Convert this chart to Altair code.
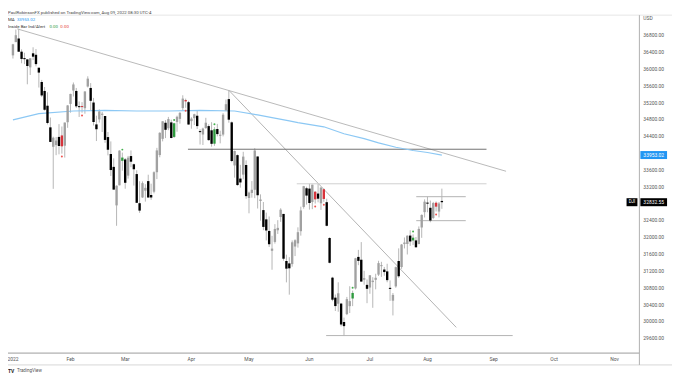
import altair as alt
import pandas as pd

# ---------------- data (Dow Jones daily candles, Jan 3 - Aug 8 2022) ----------------
dates = [
    "01-03", "01-04", "01-05", "01-06", "01-07", "01-10", "01-11", "01-12", "01-13", "01-14",
    "01-18", "01-19", "01-20", "01-21", "01-24", "01-25", "01-26", "01-27", "01-28", "01-31",
    "02-01", "02-02", "02-03", "02-04", "02-07", "02-08", "02-09", "02-10", "02-11", "02-14",
    "02-15", "02-16", "02-17", "02-18", "02-22", "02-23", "02-24", "02-25", "02-28",
    "03-01", "03-02", "03-03", "03-04", "03-07", "03-08", "03-09", "03-10", "03-11", "03-14",
    "03-15", "03-16", "03-17", "03-18", "03-21", "03-22", "03-23", "03-24", "03-25", "03-28",
    "03-29", "03-30", "03-31",
    "04-01", "04-04", "04-05", "04-06", "04-07", "04-08", "04-11", "04-12", "04-13", "04-14",
    "04-18", "04-19", "04-20", "04-21", "04-22", "04-25", "04-26", "04-27", "04-28", "04-29",
    "05-02", "05-03", "05-04", "05-05", "05-06", "05-09", "05-10", "05-11", "05-12", "05-13",
    "05-16", "05-17", "05-18", "05-19", "05-20", "05-23", "05-24", "05-25", "05-26", "05-27",
    "05-31",
    "06-01", "06-02", "06-03", "06-06", "06-07", "06-08", "06-09", "06-10", "06-13", "06-14",
    "06-15", "06-16", "06-17", "06-21", "06-22", "06-23", "06-24", "06-27", "06-28", "06-29",
    "06-30",
    "07-01", "07-05", "07-06", "07-07", "07-08", "07-11", "07-12", "07-13", "07-14", "07-15",
    "07-18", "07-19", "07-20", "07-21", "07-22", "07-25", "07-26", "07-27", "07-28", "07-29",
    "08-01", "08-02", "08-03", "08-04", "08-05", "08-08",
]
opens = [
    36321, 36636, 36722, 36409, 36250, 36226, 36036, 36370, 36335, 36028,
    35689, 35476, 35125, 34611, 34149, 34189, 34384, 34419, 34175, 34733,
    35168, 35486, 35476, 35093, 35111, 35066, 35581, 35547, 35201, 34681,
    34800, 34908, 34881, 34380, 33978, 33672, 32757, 33234, 33816,
    33849, 33464, 33929, 33733, 33501, 32809, 32945, 33106, 33334, 33004,
    33082, 33545, 33953, 34338, 34720, 34589, 34729, 34384, 34740, 34812,
    35069, 35260, 35209,
    34759, 34829, 34887, 34515, 34441, 34594, 34641, 34541, 34223, 34571,
    34410, 34440, 35012, 35282, 34730, 33706, 33951, 33394, 33488, 33716,
    32932, 33052, 33127, 33919, 32862, 32645, 32425, 32150, 31678, 31889,
    32166, 32480, 32554, 31436, 31379, 31362, 31780, 31854, 32144, 32720,
    33164,
    33156, 32837, 33082, 33038, 32807, 33141, 32833, 31983, 31040, 30565,
    30420, 30424, 29987, 30174, 30363, 30545, 30784, 31533, 31466, 30991,
    30869,
    30805, 30935, 30988, 31112, 31313, 31233, 31189, 30794, 30493, 30832,
    31436, 31292, 31838, 31839, 32040, 31924, 31925, 31840, 32232, 32597,
    32799, 32700, 32458, 32820, 32610, 32863,
]
highs = [
    36595, 36934, 36952, 36464, 36384, 36226, 36252, 36513, 36472, 36028,
    35738, 35569, 35444, 34844, 34389, 34381, 34688, 34631, 34725, 35140,
    35409, 35677, 35547, 35226, 35210, 35471, 35824, 35662, 35310, 34888,
    35038, 34977, 34881, 34500, 34277, 33875, 33233, 34066, 34012,
    33883, 33932, 34063, 33750, 33591, 33331, 33327, 33260, 33486, 33273,
    33566, 34124, 34495, 34755, 34782, 34859, 34794, 34717, 34889, 34973,
    35373, 35293, 35241,
    34850, 34934, 35020, 34567, 34604, 34837, 34684, 34733, 34615, 34693,
    34531, 34948, 35271, 35492, 34752, 34058, 33969, 33720, 34030, 33827,
    33085, 33335, 34117, 33919, 33019, 32837, 32585, 32493, 32034, 32311,
    32406, 32689, 32554, 31586, 31526, 31925, 31952, 32235, 32727, 33220,
    33200,
    33272, 33250, 33100, 33273, 33190, 33160, 32916, 32000, 31060, 30640,
    30930, 30440, 30090, 30582, 30836, 30732, 31510, 31700, 31885, 31203,
    30997,
    31098, 31051, 31133, 31441, 31416, 31295, 31370, 30974, 30675, 31303,
    31736, 31840, 31995, 32045, 32167, 32068, 32006, 32257, 32543, 32901,
    32964, 32872, 32840, 32849, 32838, 33155,
]
lows = [
    36246, 36636, 36407, 36133, 36112, 35634, 35855, 36209, 36061, 35557,
    35331, 35008, 34680, 34261, 33150, 33950, 33970, 33986, 33893, 34600,
    34960, 35344, 35070, 34858, 34960, 34936, 35559, 35011, 34655, 34286,
    34725, 34500, 34243, 33945, 33455, 33131, 32272, 33234, 33582,
    33153, 33393, 33664, 33228, 32818, 32578, 32936, 32847, 32944, 32889,
    33044, 33382, 33900, 34278, 34356, 34544, 34350, 34360, 34507, 34699,
    35009, 35076, 34675,
    34579, 34666, 34572, 34203, 34191, 34577, 34291, 34152, 34171, 34397,
    34231, 34396, 34992, 34721, 33782, 33416, 33223, 33178, 33377, 32914,
    32569, 32940, 32929, 32683, 32394, 32168, 31924, 31769, 31228, 31850,
    32078, 32366, 31444, 30928, 30636, 31300, 31553, 31754, 32038, 32680,
    32776,
    32657, 32668, 32800, 32831, 32649, 32842, 32260, 31380, 30480, 30248,
    30231, 29880, 29653, 30150, 30200, 30364, 30760, 31337, 30941, 30873,
    30434,
    30657, 30324, 30763, 31080, 31058, 31086, 30931, 30488, 30143, 30800,
    31034, 31250, 31734, 31591, 31795, 31814, 31753, 31832, 31986, 32469,
    32593, 32356, 32430, 32612, 32472, 32675,
]
closes = [
    36585, 36800, 36408, 36236, 36231, 36068, 36252, 36290, 36113, 35912,
    35369, 35029, 34715, 34265, 34365, 34298, 34168, 34160, 34725, 35132,
    35405, 35630, 35111, 35090, 35092, 35463, 35768, 35242, 34738, 34566,
    34989, 34935, 34312, 34079, 33597, 33132, 33224, 34059, 33893,
    33294, 33891, 33795, 33615, 32818, 32633, 33286, 33174, 32944, 32945,
    33545, 34063, 34481, 34755, 34553, 34808, 34358, 34708, 34862, 34955,
    35294, 35228, 34678,
    34818, 34922, 34641, 34497, 34583, 34721, 34308, 34220, 34565, 34451,
    34412, 34911, 35161, 34793, 33811, 34049, 33240, 33302, 33916, 32977,
    33061, 33128, 34061, 32998, 32899, 32246, 32161, 31834, 31730, 32197,
    32223, 32655, 31490, 31254, 31262, 31880, 31929, 32120, 32637, 33213,
    32990,
    32813, 33248, 32900, 32916, 33180, 32910, 32272, 31393, 30517, 30365,
    30669, 29927, 29888, 30530, 30483, 30677, 31501, 31438, 30947, 31029,
    30775,
    31097, 30968, 31037, 31385, 31338, 31173, 30981, 30773, 30630, 31289,
    31073, 31827, 31875, 32037, 31900, 31990, 31762, 32198, 32530, 32845,
    32798, 32397, 32813, 32727, 32803, 32832.55,
]

inside_up = ["02-28", "03-24", "04-13", "06-23", "07-25"]
inside_down = ["01-27", "02-07", "03-30", "06-03", "06-08", "08-04"]

# 200-day moving average (bar index, value)
ma_idx = [0, 9, 21, 32, 43, 54, 65, 77, 85, 90, 96, 99, 108, 115, 122, 127, 133, 139, 144, 149]
ma_val = [34789, 34936, 35000, 35016, 35000, 35000, 35016, 35000, 34906, 34842,
          34765, 34725, 34624, 34460, 34342, 34242, 34138, 34061, 34014, 33953.02]

# drawn trend / level lines (bar index, price)
tl_x1 = [1.5, 75, 60.8, 98.6, 140.1, 140.1, 108.8]
tl_y1 = [36950, 35492, 34091, 33270, 32964, 32394, 29664]
tl_x2 = [171.3, 154, 164.5, 164.5, 157.3, 157.3, 173.6]
tl_y2 = [33568, 29859, 34091, 33270, 32964, 32394, 29664]
tl_col = ["#b9b9b9", "#b3b3b3", "#707070", "#cfcfcf", "#b3b3b3", "#b3b3b3", "#b3b3b3"]

month_idx = [0, 20, 39, 62, 82, 103, 124, 144, 167, 188, 209]
month_lbl = ["2022", "Feb", "Mar", "Apr", "May", "Jun", "Jul", "Aug", "Sep", "Oct", "Nov"]

ytick_vals = [29600, 30000, 30400, 30800, 31200, 31600, 32000, 32400, 33200, 33600,
              34400, 34800, 35200, 35600, 36000, 36400, 36800]

price_lbl_val = [33953.02, 32832.55]
price_lbl_txt = ["33953.02", "32832.55"]
price_lbl_col = ["#2196f3", "#000000"]

# ---------------- build ----------------
W, H = 639, 347
XD = [0, 215.9]
YD = [29248, 37394]
FONT = "Roboto"

df = pd.DataFrame({"d": dates, "o": opens, "h": highs, "l": lows, "c": closes})
df["i"] = range(len(df))


def category(row):
    if row["d"] in inside_up:
        return "iup"
    if row["d"] in inside_down:
        return "idown"
    return "up" if row["c"] >= row["o"] else "down"


df["cat"] = df.apply(category, axis=1)

xs = alt.Scale(domain=XD, nice=False, zero=False)
ys = alt.Scale(domain=YD, nice=False, zero=False)


def X(field, scale=False):
    if scale:
        return alt.X(field, scale=xs, axis=None)
    return alt.X(field, axis=None)


def Y(field, scale=False):
    if scale:
        return alt.Y(field, scale=ys, axis=None)
    return alt.Y(field, axis=None)


cat_scale = alt.Scale(domain=["up", "down", "iup", "idown"],
                      range=["#a1a1a1", "#000000", "#2e9a3e", "#d8333b"])

base = alt.Chart(df)

wicks = base.mark_rule(color="#b6b6b6", strokeWidth=1).encode(
    x=X("i:Q", True), y=Y("l:Q", True), y2="h:Q",
)

bodies = base.transform_calculate(
    b="min(datum.o, datum.c)",
    t="max(max(datum.o, datum.c), min(datum.o, datum.c) + 25)",
).mark_bar(size=2.4).encode(
    x=X("i:Q"), y=Y("b:Q"), y2="t:Q",
    color=alt.Color("cat:N", scale=cat_scale, legend=None),
)

dots = base.transform_filter(
    "datum.cat == 'iup' || datum.cat == 'idown'"
).transform_calculate(
    dy="datum.cat == 'iup' ? datum.h + 70 : datum.l - 70"
).mark_circle(size=4, opacity=1).encode(
    x=X("i:Q"), y=Y("dy:Q"),
    color=alt.Color("cat:N", scale=alt.Scale(domain=["iup", "idown"], range=["#43b04d", "#ef5350"]),
                    legend=None),
)

ma_df = pd.DataFrame({"mi": ma_idx, "mv": ma_val})
ma_line = alt.Chart(ma_df).mark_line(color="#8cc8f4", strokeWidth=1.2).encode(
    x=X("mi:Q"), y=Y("mv:Q")
)

tl_df = pd.DataFrame({"x1": tl_x1, "y1": tl_y1, "x2": tl_x2, "y2": tl_y2, "col": tl_col})
tlines = alt.Chart(tl_df).mark_rule(strokeWidth=1).encode(
    x=X("x1:Q"), y=Y("y1:Q"), x2="x2:Q", y2="y2:Q",
    color=alt.Color("col:N", scale=None),
)

# axis labels drawn through the shared scales
ylab_df = pd.DataFrame({"v": ytick_vals, "t": [f"{v:.2f}" for v in ytick_vals]})
ylabels = alt.Chart(ylab_df).mark_text(
    align="left", baseline="middle", fontSize=5, font=FONT, color="#555555"
).encode(x=alt.value(643), y=Y("v:Q"), text="t:N")

xlab_df = pd.DataFrame({"mi": month_idx, "ml": month_lbl})
xlabels = alt.Chart(xlab_df).mark_text(
    align="center", baseline="middle", fontSize=5, font=FONT, color="#555555"
).encode(x=X("mi:Q"), y=alt.value(353), text="ml:N")

lbl_df = pd.DataFrame({"p": price_lbl_val, "txt": price_lbl_txt, "col": price_lbl_col})
lbl_box = alt.Chart(lbl_df).transform_calculate(
    lo="datum.p - 95", hi="datum.p + 95"
).mark_rect().encode(
    x=alt.value(640), x2=alt.value(667), y=Y("lo:Q"), y2="hi:Q",
    color=alt.Color("col:N", scale=None),
)
lbl_txt = alt.Chart(lbl_df).mark_text(
    color="white", fontSize=5, font=FONT, align="center", baseline="middle"
).encode(x=alt.value(653.5), y=Y("p:Q"), text="txt:N")

dji_df = pd.DataFrame({"p": [price_lbl_val[1]], "t": ["DJI"]})
dji_box = alt.Chart(dji_df).transform_calculate(
    lo="datum.p - 95", hi="datum.p + 95"
).mark_rect(color="#000000").encode(x=alt.value(626), x2=alt.value(637), y=Y("lo:Q"), y2="hi:Q")
dji_txt = alt.Chart(dji_df).mark_text(
    color="white", fontSize=4.5, font=FONT, align="center", baseline="middle"
).encode(x=alt.value(631.5), y=Y("p:Q"), text="t:N")

one = pd.DataFrame({"a": [0]})


def txt(s, x, y, color="#333333", size=4.4, weight="normal", align="left"):
    return alt.Chart(one).mark_text(
        text=s, color=color, fontSize=size, font=FONT, fontWeight=weight,
        align=align, baseline="middle"
    ).encode(x=alt.value(x), y=alt.value(y))


def hline(x1, x2, y, color):
    return alt.Chart(one).mark_rule(color=color, strokeWidth=1).encode(
        x=alt.value(x1), x2=alt.value(x2), y=alt.value(y)
    )


def vline(x, y1, y2, color):
    return alt.Chart(one).mark_rule(color=color, strokeWidth=1).encode(
        x=alt.value(x), y=alt.value(y1), y2=alt.value(y2)
    )


texts = [
    txt("PaulRobinsonFX published on TradingView.com, Aug 09, 2022 08:30 UTC-4", 0, 2.5, "#444444"),
    txt("MA", 0, 9.5, "#333333"),
    txt("33953.02", 9, 9.5, "#2196f3"),
    txt("Inside Bar Ind/Alert", 0, 16.5, "#333333"),
    txt("0.00", 42, 16.5, "#2e9a3e"),
    txt("0.00", 53, 16.5, "#e53935"),
    txt("USD", 643, 8, "#555555", size=5),
    txt("TV", 0, 365, "#222222", size=5, weight="bold"),
    txt("TradingView", 9, 365, "#555555", size=4.6),
]

frame = [
    hline(0, 672, 5, "#e6e6e6"),
    hline(0, 639, H, "#9a9a9a"),
    hline(0, 672, 359, "#d6d6d6"),
    vline(639, 5, 359, "#b0b0b0"),
]

chart = alt.layer(
    wicks, tlines, ma_line, bodies, dots, *frame, ylabels, xlabels,
    dji_box, dji_txt, lbl_box, lbl_txt, *texts
).resolve_scale(color="independent").properties(
    width=W, height=H,
    autosize=alt.AutoSizeParams(type="none"),
    padding={"left": 0, "top": 0, "right": 33, "bottom": 25},
    background="white",
).configure_view(stroke=None)

chart.save("out.html", embed_options={"renderer": "svg", "actions": False})
